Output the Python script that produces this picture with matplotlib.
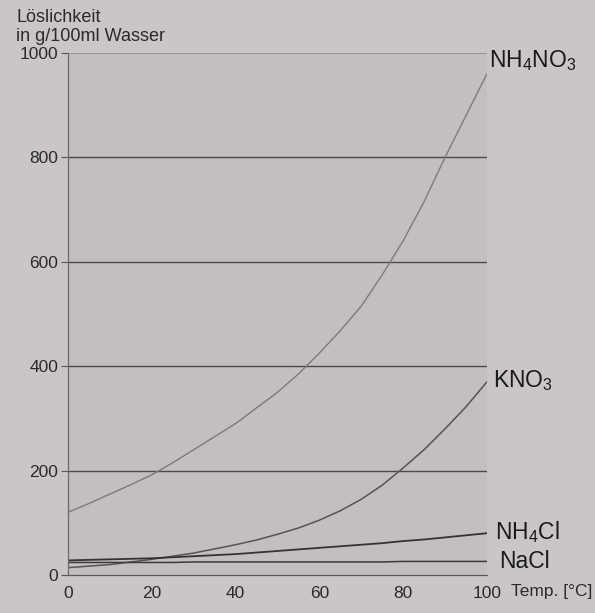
import matplotlib.pyplot as plt
import numpy as np

plt.rcParams['font.family'] = ['Liberation Sans', 'DejaVu Sans']
plt.rcParams['mathtext.fontset'] = 'custom'
plt.rcParams['mathtext.rm'] = 'Liberation Sans'
plt.rcParams['mathtext.it'] = 'Liberation Sans'

# temperatures in degC
temp = [0, 5, 10, 15, 20, 25, 30, 35, 40, 45, 50, 55, 60, 65, 70, 75, 80, 85, 90, 95, 100]

# solubility in g/100ml water
nh4no3 = [120, 137, 155, 173, 192, 215, 240, 265, 290, 320, 350, 385, 425, 468, 515, 575,
          640, 715, 800, 880, 960]
kno3 = [14, 17, 20, 25, 30, 36, 42, 50, 58, 67, 78, 90, 105, 123, 145, 172, 205, 240, 280,
        322, 370]
nh4cl = [28, 29, 30, 31, 32, 34, 36, 38, 40, 43, 46, 49, 52, 55, 58, 61, 65, 68, 72, 76, 80]
nacl = [24, 24, 24, 24, 24, 24, 25, 25, 25, 25, 25, 25, 25, 25, 25, 25, 26, 26, 26, 26, 26]

names = [r'NH$_4$NO$_3$', r'KNO$_3$', r'NH$_4$Cl', 'NaCl']
label_x = [100.5, 101.5, 102, 103]
label_y = [985, 372, 82, 25]
yticks = [0, 200, 400, 600, 800, 1000]
xticks = [0, 20, 40, 60, 80, 100]

bg = '#cbc6c6'
fig = plt.figure(figsize=(5.95, 6.13), dpi=100, facecolor=bg)
ax = fig.add_axes([0.1143, 0.062, 0.704, 0.8515])
ax.set_facecolor('#c4bfbf')

for y in yticks[1:-1]:
    ax.axhline(y, color='#4a4a4a', lw=1.0, zorder=1)
ax.axhline(1000, color='#9a9696', lw=0.8, zorder=1)

ax.plot(temp, nh4no3, color='#7d7a7a', lw=1.0, zorder=2)
ax.plot(temp, kno3, color='#555353', lw=1.1, zorder=2)
ax.plot(temp, nh4cl, color='#333333', lw=1.3, zorder=2)
ax.plot(temp, nacl, color='#3a3a3a', lw=1.1, zorder=2)

for name, x, y in zip(names, label_x, label_y):
    ax.text(x, y, name, fontsize=16.5, color='#1a1a1a', va='center', ha='left', clip_on=False)

ax.set_xlim(0, 100)
ax.set_ylim(0, 1000)
ax.set_xticks(xticks)
ax.set_yticks(yticks)
ax.tick_params(axis='x', length=0, pad=8, labelsize=12.5, colors='#2a2a2a')
ax.tick_params(axis='y', length=5, width=0.8, color='#555555', pad=2, labelsize=12.5, colors='#2a2a2a')

for s in ['top', 'right']:
    ax.spines[s].set_visible(False)
ax.spines['left'].set_color('#6a6868')
ax.spines['left'].set_linewidth(0.9)
ax.spines['bottom'].set_color('#5a5858')
ax.spines['bottom'].set_linewidth(0.9)

fig.text(0.027, 0.985, 'Löslichkeit\nin g/100ml Wasser', fontsize=13, color='#2a2a2a',
         va='top', ha='left', linespacing=1.15)
fig.text(0.858, 0.028, 'Temp. [°C]', fontsize=12.5, color='#2a2a2a', va='baseline', ha='left')

plt.savefig('out.png', dpi=100, facecolor=bg)
